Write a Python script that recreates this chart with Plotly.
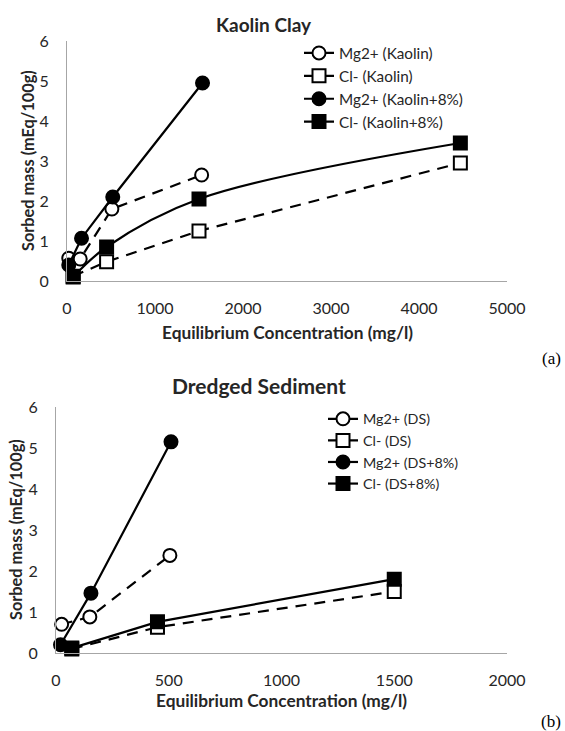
import plotly.graph_objects as go

W, H = 565, 731

# ---------------- data: (a) Kaolin Clay ----------------
k_mg_x = [20, 150, 510, 1530]
k_mg_y = [0.57, 0.55, 1.8, 2.65]
k_cl_x = [70, 450, 1500, 4470]
k_cl_y = [0.12, 0.48, 1.25, 2.95]
k_mg8_x = [20, 165, 520, 1540]
k_mg8_y = [0.4, 1.07, 2.1, 4.95]
k_cl8_x = [70, 450, 1500, 4470]
k_cl8_y = [0.1, 0.85, 2.05, 3.45]

# ---------------- data: (b) Dredged Sediment ----------------
d_mg_x = [25, 150, 505]
d_mg_y = [0.7, 0.88, 2.38]
d_cl_x = [70, 450, 1500]
d_cl_y = [0.1, 0.63, 1.5]
d_mg8_x = [20, 155, 510]
d_mg8_y = [0.2, 1.46, 5.15]
d_cl8_x = [70, 450, 1500]
d_cl8_y = [0.12, 0.76, 1.8]

names_a = ["Mg2+ (Kaolin)", "Cl- (Kaolin)", "Mg2+ (Kaolin+8%)", "Cl- (Kaolin+8%)"]
names_b = ["Mg2+ (DS)", "Cl- (DS)", "Mg2+ (DS+8%)", "Cl- (DS+8%)"]

x_ticks_a = [0, 1000, 2000, 3000, 4000, 5000]
x_ticks_b = [0, 500, 1000, 1500, 2000]
y_ticks = [0, 1, 2, 3, 4, 5, 6]


def fx(p):
    return p / W


def fy(p):
    return 1 - p / H


FONT = "Lato"
TXT = "#262626"
DASH = "11px,8px"

styles = [
    dict(symbol="circle", fill="white", dash=DASH, shape="linear"),
    dict(symbol="square", fill="white", dash=DASH, shape="linear"),
    dict(symbol="circle", fill="black", dash="solid", shape="linear"),
    dict(symbol="square", fill="black", dash="solid", shape="spline"),
]

fig = go.Figure()

series_a = [(k_mg_x, k_mg_y), (k_cl_x, k_cl_y), (k_mg8_x, k_mg8_y), (k_cl8_x, k_cl8_y)]
series_b = [(d_mg_x, d_mg_y), (d_cl_x, d_cl_y), (d_mg8_x, d_mg8_y), (d_cl8_x, d_cl8_y)]

for (xs, ys), nm, st in zip(series_a, names_a, styles):
    fig.add_trace(go.Scatter(
        x=xs, y=ys, name=nm, mode="lines+markers", xaxis="x", yaxis="y",
        legend="legend", cliponaxis=False,
        line=dict(color="black", width=2.2, dash=st["dash"], shape=st["shape"]),
        marker=dict(symbol=st["symbol"], size=13, color=st["fill"],
                    line=dict(color="black", width=2)),
    ))

for (xs, ys), nm, st in zip(series_b, names_b, styles):
    fig.add_trace(go.Scatter(
        x=xs, y=ys, name=nm, mode="lines+markers", xaxis="x2", yaxis="y2",
        legend="legend2", cliponaxis=False,
        line=dict(color="black", width=2.2, dash=st["dash"], shape="linear"),
        marker=dict(symbol=st["symbol"], size=13, color=st["fill"],
                    line=dict(color="black", width=2)),
    ))

axis_common = dict(
    showline=True, linecolor="#a6a6a6", linewidth=1.2, showgrid=False,
    zeroline=False, ticks="outside", tickcolor="rgba(0,0,0,0)",
    tickfont=dict(family=FONT, size=16, color=TXT), fixedrange=True,
    automargin=False,
)

fig.update_layout(
    width=W, height=H, margin=dict(l=0, r=0, t=0, b=0, pad=0, autoexpand=False),
    paper_bgcolor="white", plot_bgcolor="white",
    xaxis=dict(domain=[fx(67), fx(507)], range=[0, 5000], tickvals=x_ticks_a,
               anchor="y", ticklen=13, **axis_common),
    yaxis=dict(domain=[fy(281), fy(41)], range=[0, 6], tickvals=y_ticks,
               anchor="x", ticklen=14, **axis_common),
    xaxis2=dict(domain=[fx(56), fx(507)], range=[0, 2000], tickvals=x_ticks_b,
                anchor="y2", ticklen=13, **axis_common),
    yaxis2=dict(domain=[fy(653), fy(407)], range=[0, 6], tickvals=y_ticks,
                anchor="x2", ticklen=14, **axis_common),
    legend=dict(x=fx(299), y=fy(36.5), xanchor="left", yanchor="top",
                font=dict(family=FONT, size=15.3, color=TXT),
                bgcolor="rgba(0,0,0,0)", tracegroupgap=0, itemwidth=30),
    legend2=dict(x=fx(323), y=fy(403), xanchor="left", yanchor="top",
                 font=dict(family=FONT, size=14.3, color=TXT),
                 bgcolor="rgba(0,0,0,0)", tracegroupgap=0, itemwidth=30),
    showlegend=True,
)

ann = [
    dict(text="<b>Kaolin Clay</b>", x=fx(264), y=fy(24), size=19, angle=0),
    dict(text="<b>Dredged Sediment</b>", x=fx(259), y=fy(385), size=21, angle=0),
    dict(text="<b>Equilibrium Concentration (mg/l)</b>", x=fx(287), y=fy(332), size=17.3, angle=0),
    dict(text="<b>Equilibrium Concentration (mg/l)</b>", x=fx(281), y=fy(700), size=17.3, angle=0),
    dict(text="<b>Sorbed mass (mEq/100g)</b>", x=fx(27), y=fy(161), size=16.3, angle=-90),
    dict(text="<b>Sorbed mass (mEq/100g)</b>", x=fx(15), y=fy(530), size=16.3, angle=-90),
]
for a in ann:
    fig.add_annotation(text=a["text"], x=a["x"], y=a["y"], xref="paper", yref="paper",
                       xanchor="center", yanchor="middle", showarrow=False,
                       textangle=a["angle"],
                       font=dict(family=FONT, size=a["size"], color=TXT))

for lbl, yy in [("(a)", 358), ("(b)", 721)]:
    fig.add_annotation(text=lbl, x=fx(563), y=fy(yy), xref="paper", yref="paper",
                       xanchor="right", yanchor="middle", showarrow=False,
                       font=dict(family="Liberation Serif", size=17, color="black"))

fig.write_html("out.html", config={"displayModeBar": False},
               post_script="document.body.style.margin='0';document.body.style.overflow='hidden';")
